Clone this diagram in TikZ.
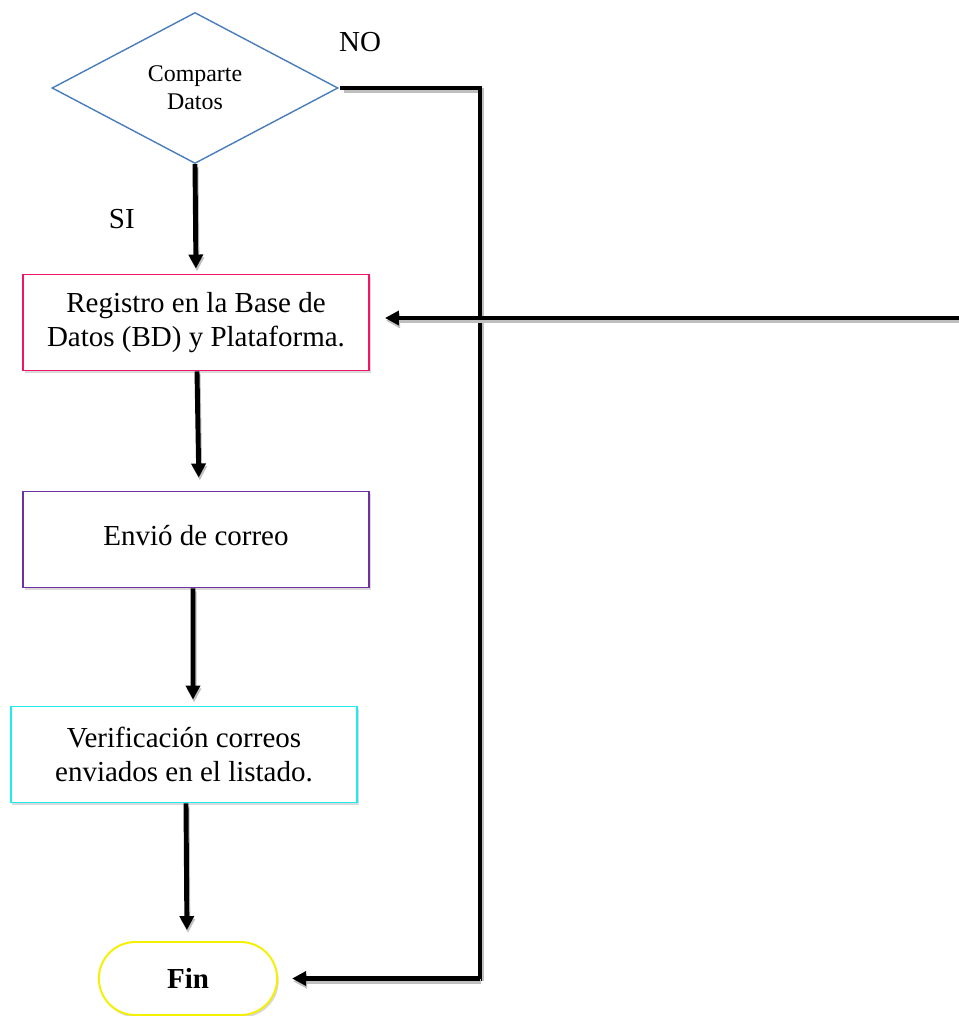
\documentclass[tikz,border=0pt]{standalone}
\usepackage{fontspec}
\setmainfont{Liberation Serif}
\usepackage{xcolor}
\usetikzlibrary{arrows.meta,shapes.geometric,shapes.misc,shadows,calc}
\definecolor{decBlue}{HTML}{4A7EBB}
\definecolor{regPink}{HTML}{F0156B}
\definecolor{mailPurple}{HTML}{7030A0}
\definecolor{checkCyan}{HTML}{1EEBF2}
\definecolor{endYellow}{HTML}{F5F000}
\tikzset{
box/.style = {rectangle, draw=#1, line width=1.1pt, fill=white,
              minimum width=6.92cm, minimum height=1.92cm, align=center,
              drop shadow={shadow xshift=0.03cm, shadow yshift=-0.05cm, opacity=0.3}},
box/.default = black
}
\tikzset{
decision/.style = {diamond, draw=decBlue, line width=0.8pt, inner sep=0pt,
                   minimum width=5.72cm, minimum height=3.02cm, aspect=1.9,
                   align=center, font=\fontsize{13.6}{16}\selectfont}
}
\tikzset{
flow/.style = {line width=2.8pt, -{Triangle[length=2.8mm,width=2.8mm]},
               preaction={draw, black!25, line width=2.8pt,
                          transform canvas={shift={(0.6pt,-1.6pt)}}}},
plain/.style = {line width=2.8pt,
                preaction={draw, black!25, line width=2.8pt,
                           transform canvas={shift={(0.6pt,-1.6pt)}}}}
}
\begin{document}
\begin{tikzpicture}[font=\fontsize{16.5}{19.5}\selectfont]
  \useasboundingbox (0,0) rectangle (19.18,-20.32);

  % Boxes
    \node[decision] (cmpDec) at (3.90,-1.76) {Comparte\\Datos};
    \node[box=regPink] (regBox) at (3.92,-6.45) {Registro en la Base de\\Datos (BD) y Plataforma.};
    \node[box=mailPurple] (mailBox) at (3.92,-10.79) {\raisebox{0.16cm}{Envió de correo}};
    \node[box=checkCyan] (checkBox) at (3.68,-15.09) {Verificación correos\\enviados en el listado.};
    \node[rounded rectangle, draw=endYellow, line width=1.1pt, fill=white,
          minimum width=3.8cm, minimum height=1.46cm,
          drop shadow={shadow xshift=0.03cm, shadow yshift=-0.05cm, opacity=0.3},
          font=\fontsize{16.5}{19.5}\selectfont\bfseries] (endBox) at (3.76,-19.57) {Fin};

  % Node
    \node (noLabel) at (7.20,-0.84) {NO};
    \coordinate (noCorner) at (9.60,-1.76);
    \coordinate (noDown) at (9.60,-19.57);
    \coordinate (backStart) at (19.18,-6.36);

  % Lines
    \draw[flow, shorten >=0.1cm] (cmpDec.south) -- node[left=1.05cm]{SI} (regBox.north);
    \draw[flow, shorten >=0.26cm] ($(regBox.south)+(0.02,0)$) -- ($(mailBox.north)+(0.06,0)$);
    \draw[flow, shorten >=0.12cm] ($(mailBox.south)+(-0.06,0)$) -- ($(checkBox.north)+(0.18,0)$);
    \draw[flow, shorten >=0.22cm] ($(checkBox.south)+(0.04,0)$) -- ($(endBox.north)+(-0.02,0)$);
    \draw[plain, line cap=rect] ($(cmpDec.east)+(0.08,0)$) -- (noCorner) -- (noDown);
    \draw[flow, shorten >=0.28cm] (noDown) -- (endBox.east);
    \draw[flow, shorten >=0.3cm] (backStart) -- (regBox.east |- backStart);
\end{tikzpicture}
\end{document}
